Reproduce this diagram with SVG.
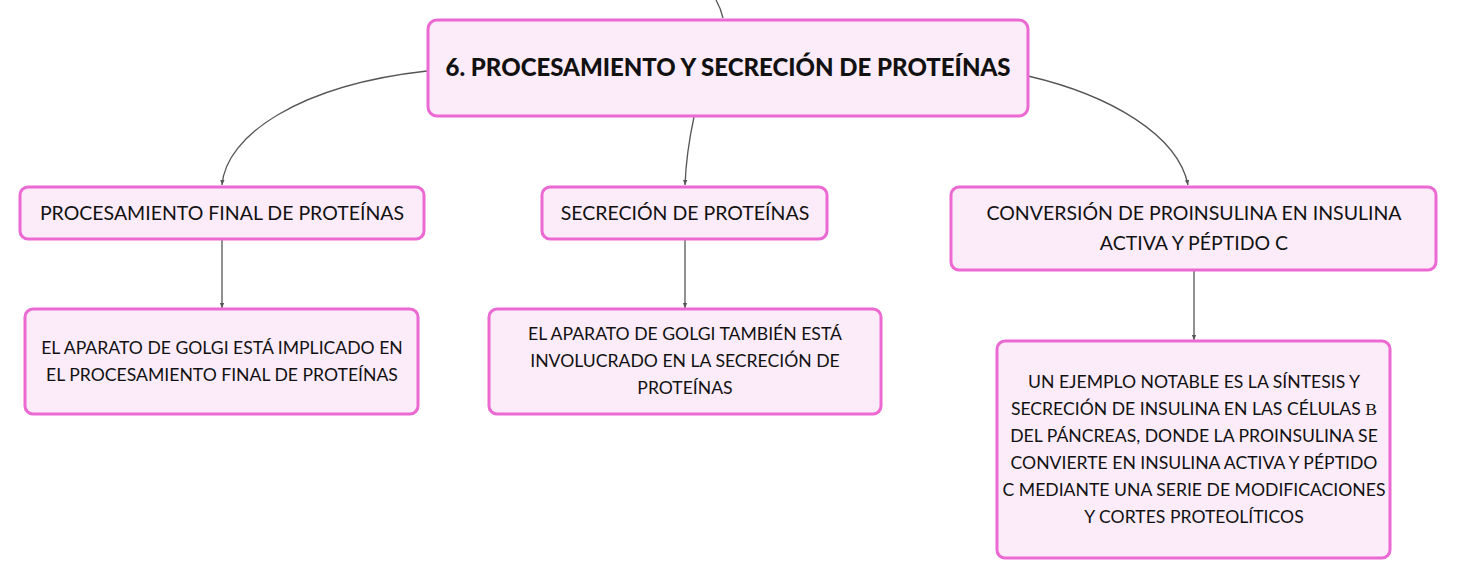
<svg xmlns="http://www.w3.org/2000/svg" width="1457" height="581" viewBox="0 0 1457 581">
<style>
.node rect{fill:#fcecf9;stroke:#ec68d2;stroke-width:3}
.t{font-family:Lato,"Open Sans",sans-serif;fill:#111;text-anchor:middle}
.title{font-size:24px;font-weight:900}
.c{font-size:19.5px}
.g{font-size:17.6px}
.conn path{fill:none;stroke:#555;stroke-width:1.3}
</style>
<defs>
<marker id="ah" markerWidth="6" markerHeight="6" refX="5" refY="3" orient="auto" markerUnits="userSpaceOnUse">
<path d="M0,0.8 L5,3 L0,5.2 z" fill="#555" stroke="none"/>
</marker>
</defs>
<rect width="1457" height="581" fill="#fff"/>
<g class="conn">
<path d="M716,0 Q721,9 723,18"/>
<path d="M427,71 C300,85 226,135 222,185" marker-end="url(#ah)"/>
<path d="M694,117 C689,140 686,160 685,185" marker-end="url(#ah)"/>
<path d="M1028,76 C1110,95 1178,135 1188,185" marker-end="url(#ah)"/>
<path d="M222,239 L222,308" marker-end="url(#ah)"/>
<path d="M685,239 L685,308" marker-end="url(#ah)"/>
<path d="M1194,270 L1194,340" marker-end="url(#ah)"/>
</g>
<g id="root" class="node">
<rect x="428" y="20" width="600" height="96" rx="9"/>
<text class="t title" x="728" y="76">6. PROCESAMIENTO Y SECRECIÓN DE PROTEÍNAS</text>
</g>
<g id="n1" class="node">
<rect x="20" y="187" width="404" height="52" rx="8"/>
<text class="t c" x="222" y="220">PROCESAMIENTO FINAL DE PROTEÍNAS</text>
</g>
<g id="n2" class="node">
<rect x="542" y="187" width="285" height="52" rx="8"/>
<text class="t c" x="685" y="220">SECRECIÓN DE PROTEÍNAS</text>
</g>
<g id="n3" class="node">
<rect x="951" y="187" width="485" height="83" rx="8"/>
<text class="t c" x="1194" y="220">CONVERSIÓN DE PROINSULINA EN INSULINA</text>
<text class="t c" x="1194" y="250">ACTIVA Y PÉPTIDO C</text>
</g>
<g id="n4" class="node">
<rect x="25" y="309" width="393" height="105" rx="8"/>
<text class="t g" x="222" y="354">EL APARATO DE GOLGI ESTÁ IMPLICADO EN</text>
<text class="t g" x="222" y="381">EL PROCESAMIENTO FINAL DE PROTEÍNAS</text>
</g>
<g id="n5" class="node">
<rect x="489" y="309" width="392" height="105" rx="8"/>
<text class="t g" x="685" y="340">EL APARATO DE GOLGI TAMBIÉN ESTÁ</text>
<text class="t g" x="685" y="367">INVOLUCRADO EN LA SECRECIÓN DE</text>
<text class="t g" x="685" y="394">PROTEÍNAS</text>
</g>
<g id="n6" class="node">
<rect x="997" y="341" width="393" height="217" rx="8"/>
<text class="t g" x="1194" y="388">UN EJEMPLO NOTABLE ES LA SÍNTESIS Y</text>
<text class="t g" x="1194" y="415">SECRECIÓN DE INSULINA EN LAS CÉLULAS <tspan font-family="'Liberation Serif',serif">Β</tspan></text>
<text class="t g" x="1194" y="442">DEL PÁNCREAS, DONDE LA PROINSULINA SE</text>
<text class="t g" x="1194" y="469">CONVIERTE EN INSULINA ACTIVA Y PÉPTIDO</text>
<text class="t g" x="1194" y="496">C MEDIANTE UNA SERIE DE MODIFICACIONES</text>
<text class="t g" x="1194" y="523">Y CORTES PROTEOLÍTICOS</text>
</g>
</svg>
